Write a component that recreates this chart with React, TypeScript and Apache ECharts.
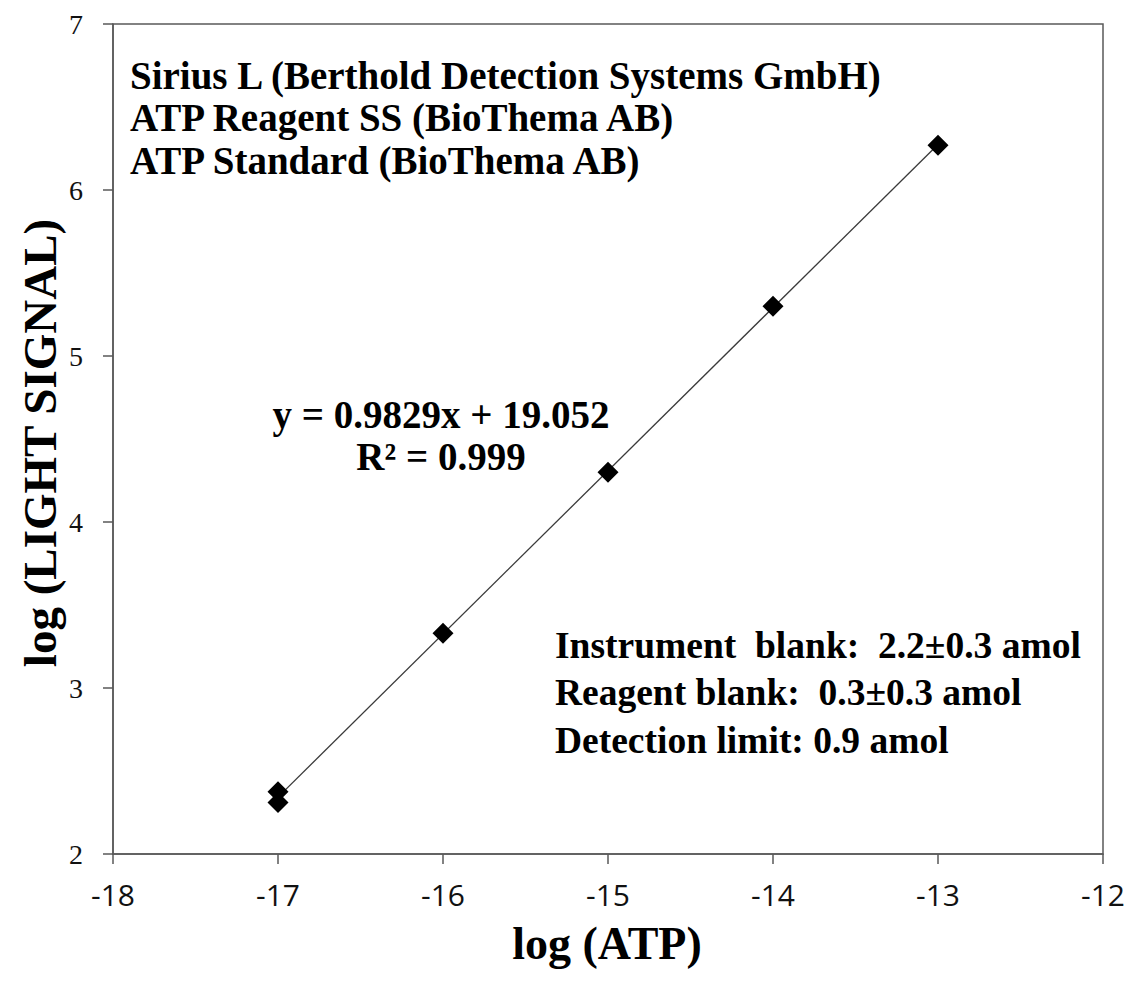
import React, { useEffect, useRef } from "react";
import * as echarts from "echarts";

// Measured data (log ATP vs log light signal)
const atpLog = [-17, -17, -16, -15, -14, -13];
const signalLog = [2.375, 2.31, 3.33, 4.3, 5.3, 6.27];

// Linear trendline from the label on the chart
const slope = 0.9829;
const intercept = 19.052;
const trendX = [-17, -13];

const headerLines = [
  "Sirius L (Berthold Detection Systems GmbH)",
  "ATP Reagent SS (BioThema AB)",
  "ATP Standard (BioThema AB)",
];
const equationLines = ["y = 0.9829x + 19.052", "R² = 0.999"];
const blankLines = [
  "Instrument  blank:  2.2±0.3 amol",
  "Reagent blank:  0.3±0.3 amol",
  "Detection limit: 0.9 amol",
];
const xTitle = "log (ATP)";
const yTitle = "log (LIGHT SIGNAL)";

const SERIF = "Liberation Serif";
const SANS = "Open Sans";

export default function App() {
  const ref = useRef<HTMLDivElement>(null);

  useEffect(() => {
    if (!ref.current) return;
    const chart = echarts.init(ref.current, null, { renderer: "svg" });

    const scatterData = atpLog.map((x, i) => [x, signalLog[i]]);
    const trendData = trendX.map((x) => [x, slope * x + intercept]);

    const textStyleBase = {
      fontFamily: SERIF,
      fontWeight: "bold",
      fill: "#000",
    };

    const graphics: any[] = [];
    headerLines.forEach((t, i) => {
      graphics.push({
        type: "text",
        x: 130,
        y: 75 + i * 42.5,
        style: { ...textStyleBase, text: t, fontSize: 39, align: "left", verticalAlign: "middle" },
      });
    });
    equationLines.forEach((t, i) => {
      graphics.push({
        type: "text",
        x: 441,
        y: 414 + i * 42,
        style: { ...textStyleBase, text: t, fontSize: 39, align: "center", verticalAlign: "middle" },
      });
    });
    blankLines.forEach((t, i) => {
      graphics.push({
        type: "text",
        x: 555,
        y: 645 + i * 47.5,
        style: { ...textStyleBase, text: t, fontSize: 37.5, align: "left", verticalAlign: "middle" },
      });
    });
    graphics.push({
      type: "text",
      x: 607,
      y: 943,
      style: {
        ...textStyleBase,
        text: xTitle,
        fontSize: 46,
        lineHeight: 40,
        align: "center",
        verticalAlign: "middle",
      },
    });
    graphics.push({
      type: "text",
      x: 40,
      y: 443,
      rotation: Math.PI / 2,
      style: { ...textStyleBase, text: yTitle, fontSize: 47, align: "center", verticalAlign: "middle" },
    });

    chart.setOption({
      animation: false,
      backgroundColor: "#ffffff",
      textStyle: { fontFamily: SERIF },
      grid: {
        left: 113,
        top: 24,
        right: 26,
        bottom: 130,
        show: true,
        borderColor: "#595959",
        borderWidth: 1.5,
        backgroundColor: "transparent",
      },
      xAxis: {
        type: "value",
        min: -18,
        max: -12,
        interval: 1,
        axisLine: { show: true, onZero: false, lineStyle: { color: "#595959", width: 1.5 } },
        axisTick: { show: true, inside: false, length: 10, lineStyle: { color: "#595959", width: 1.5 } },
        splitLine: { show: false },
        axisLabel: {
          color: "#111",
          fontFamily: SANS,
          fontSize: 30,
          lineHeight: 24,
          margin: 28,
        },
      },
      yAxis: {
        type: "value",
        min: 2,
        max: 7,
        interval: 1,
        axisLine: { show: true, onZero: false, lineStyle: { color: "#595959", width: 1.5 } },
        axisTick: { show: true, inside: false, length: 10, lineStyle: { color: "#595959", width: 1.5 } },
        splitLine: { show: false },
        axisLabel: {
          color: "#111",
          fontFamily: SERIF,
          fontSize: 28,
          margin: 30,
        },
      },
      series: [
        {
          type: "line",
          data: trendData,
          symbol: "none",
          lineStyle: { color: "#3a3a3a", width: 1.3 },
          z: 2,
        },
        {
          type: "scatter",
          data: scatterData,
          symbol: "diamond",
          symbolSize: 21,
          itemStyle: { color: "#000", opacity: 1 },
          z: 3,
        },
      ],
      graphic: graphics,
    });

    return () => chart.dispose();
  }, []);

  return (
    <div
      ref={ref}
      style={{ position: "absolute", left: 0, top: 0, width: 1129, height: 984 }}
    />
  );
}
